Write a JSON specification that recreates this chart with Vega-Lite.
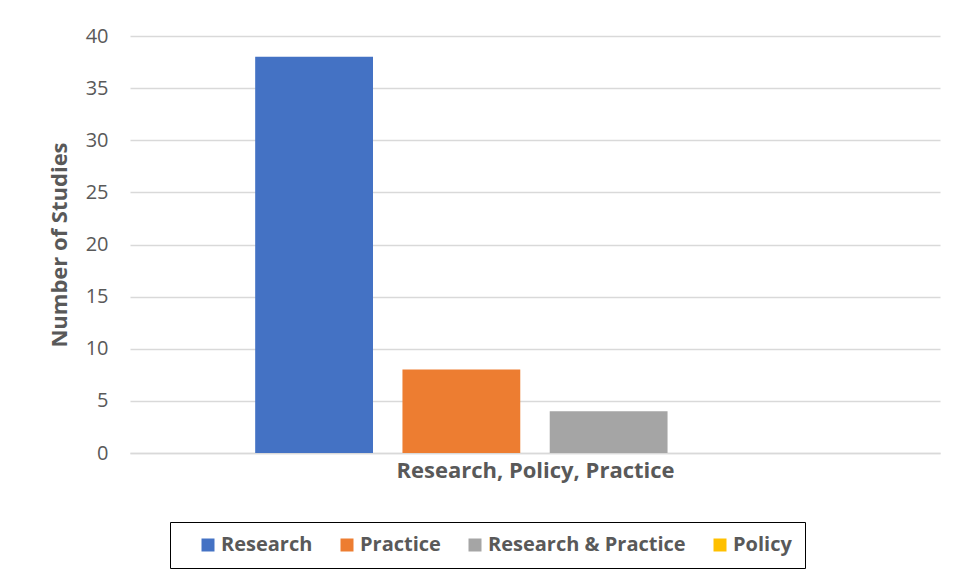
{
  "$schema": "https://vega.github.io/schema/vega-lite/v6.json",
  "width": 810,
  "height": 417,
  "autosize": {"type": "none"},
  "padding": {"left": 130, "top": 36, "right": 18, "bottom": 125},
  "background": "white",
  "data": {
    "values": [
      {"Category": "Research", "Studies": 38},
      {"Category": "Practice", "Studies": 8},
      {"Category": "Research & Practice", "Studies": 4},
      {"Category": "Policy", "Studies": 0}
    ]
  },
  "mark": {"type": "bar"},
  "encoding": {
    "x": {
      "field": "Category",
      "type": "nominal",
      "sort": ["Research", "Practice", "Research & Practice", "Policy"],
      "scale": {"paddingInner": 0.2, "paddingOuter": 0.85},
      "axis": {
        "labels": false,
        "ticks": false,
        "domain": true,
        "domainColor": "#d9d9d9",
        "domainWidth": 1.5,
        "title": "Research, Policy, Practice",
        "titleFont": "Open Sans",
        "titleFontSize": 22,
        "titleFontWeight": "bold",
        "titleColor": "#595959",
        "titlePadding": 7
      }
    },
    "y": {
      "field": "Studies",
      "type": "quantitative",
      "scale": {"domain": [0, 40]},
      "axis": {
        "values": [0, 5, 10, 15, 20, 25, 30, 35, 40],
        "title": "Number of Studies",
        "titleFont": "Open Sans",
        "titleFontSize": 22,
        "titleFontWeight": "bold",
        "titleColor": "#595959",
        "titlePadding": 14,
        "labelFont": "Open Sans",
        "labelFontSize": 20,
        "labelColor": "#595959",
        "labelPadding": 22,
        "ticks": false,
        "domain": false,
        "grid": true,
        "gridColor": "#d9d9d9",
        "gridWidth": 1.5
      }
    },
    "color": {
      "field": "Category",
      "type": "nominal",
      "sort": ["Research", "Practice", "Research & Practice", "Policy"],
      "scale": {
        "domain": ["Research", "Practice", "Research & Practice", "Policy"],
        "range": ["#4472C4", "#ED7D31", "#A5A5A5", "#FFC000"]
      },
      "legend": {
        "title": null,
        "orient": "none",
        "direction": "horizontal",
        "legendX": 40,
        "legendY": 486,
        "columns": 4,
        "strokeColor": "black",
        "padding": 13,
        "symbolType": "square",
        "symbolSize": 169,
        "symbolStrokeWidth": 0,
        "symbolOffset": 15,
        "labelFont": "Open Sans",
        "labelFontSize": 20,
        "labelFontWeight": "bold",
        "labelColor": "#595959",
        "labelLimit": 0,
        "columnPadding": 9,
        "labelOffset": 3
      }
    }
  },
  "config": {
    "view": {"stroke": null}
  }
}
